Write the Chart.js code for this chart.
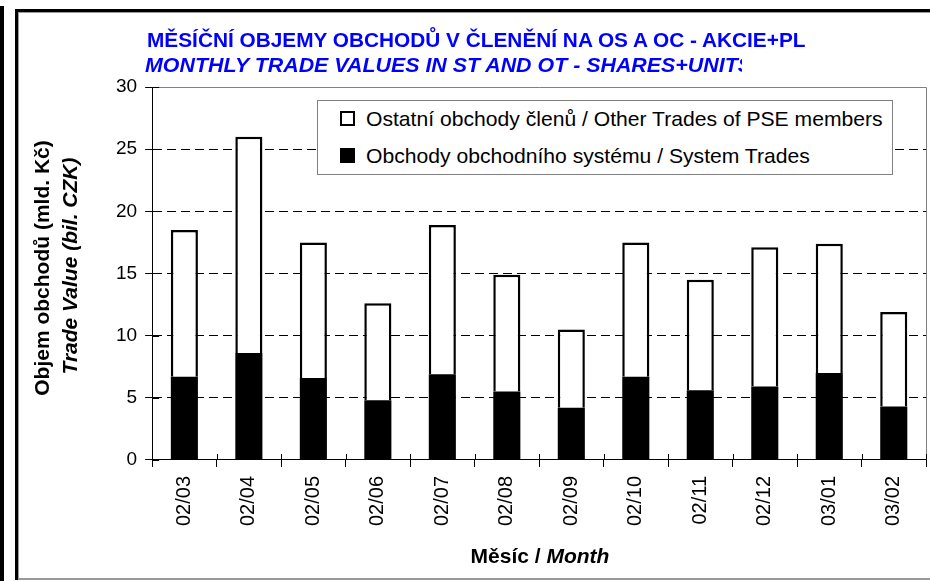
<!DOCTYPE html>
<html>
<head>
<meta charset="utf-8">
<script src="https://cdn.jsdelivr.net/npm/chart.js@4.4.1/dist/chart.umd.min.js"></script>
<style>
  html, body { margin: 0; padding: 0; background: #fff; }
  body { width: 930px; height: 581px; position: relative; overflow: hidden; font-family: "Liberation Sans", Arial, sans-serif; }
  #sideBar { position: absolute; left: 0; top: 6px; width: 4px; height: 575px; background: #000; }
  #frame { position: absolute; left: 15px; top: 9px; width: 925px; height: 571px; box-sizing: border-box; border-top: 3px solid #000; border-left: 3px solid #000; }
  #frame div { position: absolute; left: 0; top: 0; right: 0; bottom: 0; border-top: 1px solid #999; border-left: 1px solid #999; border-bottom: 2px solid #999; }
  #wrap { position: absolute; left: 0; top: 0; width: 930px; height: 581px; }
  .txt { position: absolute; white-space: nowrap; line-height: 21px; font-size: 21px; }
  .title { font-weight: bold; color: #0000ff; transform-origin: left center; }
  #title2clip { position: absolute; left: 145px; top: 50px; width: 597px; height: 30px; overflow: hidden; }
  #title2 { left: 0; top: 4px; font-style: italic; }
  .ytitle { font-weight: bold; color: #000; transform: translate(-50%, -50%) rotate(-90deg); }
  #xtitle { left: 540px; top: 545px; font-weight: bold; transform: translateX(-50%); }
  #legend { position: absolute; left: 317px; top: 100px; width: 576px; height: 75px; box-sizing: border-box; border: 1px solid #808080; background: #fff; }
  .mark { position: absolute; left: 22px; width: 15px; height: 15px; box-sizing: border-box; border: 2px solid #000; }
  .ltext { left: 48px; color: #000; transform-origin: left center; }
</style>
</head>
<body>
<div id="sideBar"></div>
<div id="frame"><div></div></div>
<div id="wrap"><canvas id="chart"></canvas></div>
<div class="txt title" id="title1" style="left:147px; top:29px;"></div>
<div id="title2clip"><div class="txt title" id="title2"></div></div>
<div class="txt ytitle" id="ytitle1" style="left:41px; top:268px;"></div>
<div class="txt ytitle" id="ytitle2" style="left:69px; top:266px; font-style:italic;"></div>
<div class="txt" id="xtitle"></div>
<div id="legend"></div>
<script>
const months = ["02/03", "02/04", "02/05", "02/06", "02/07", "02/08", "02/09", "02/10", "02/11", "02/12", "03/01", "03/02"];
const systemTrades = [6.7, 8.6, 6.6, 4.8, 6.9, 5.5, 4.2, 6.7, 5.6, 5.9, 7.0, 4.3];
const otherTrades = [11.8, 17.4, 10.9, 7.8, 12.0, 9.4, 6.3, 10.8, 8.9, 11.2, 10.4, 7.6];
const seriesNames = ["Obchody obchodního systému / System Trades", "Ostatní obchody členů / Other Trades of PSE members"];
const yMin = 0, yMax = 30, yStep = 5;

const titleLines = ["MĚSÍČNÍ OBJEMY OBCHODŮ V ČLENĚNÍ NA OS A OC - AKCIE+PL", "MONTHLY TRADE VALUES IN ST AND OT - SHARES+UNITS"];
const yTitleLines = ["Objem obchodů (mld. Kč)", "Trade Value (bil. CZK)"];

document.getElementById("title1").textContent = titleLines[0];
document.getElementById("title2").textContent = titleLines[1];
document.getElementById("ytitle1").textContent = yTitleLines[0];
document.getElementById("ytitle2").textContent = yTitleLines[1];
document.getElementById("xtitle").innerHTML = "Měsíc / <i>Month</i>";

// fit text lines to the widths in the picture
function fitWidth(el, w) {
  el.style.transform = "scaleX(" + (w / el.offsetWidth) + ")";
}
fitWidth(document.getElementById("title1"), 658);
fitWidth(document.getElementById("title2"), 607);

// legend, other trades first
const legend = document.getElementById("legend");
[[seriesNames[1], "#fff", 10, 7], [seriesNames[0], "#000", 47, 44]].forEach(function (it) {
  const m = document.createElement("div");
  m.className = "mark";
  m.style.background = it[1];
  m.style.top = it[2] + "px";
  legend.appendChild(m);
  const t = document.createElement("div");
  t.className = "txt ltext";
  t.style.top = it[3] + "px";
  t.textContent = it[0];
  legend.appendChild(t);
});
fitWidth(legend.children[1], 517);
fitWidth(legend.children[3], 517 * legend.children[3].offsetWidth / legend.children[1].offsetWidth);

// plot border and the inner halves of tick marks
const plotExtras = {
  id: "plotExtras",
  afterDatasetsDraw(chart) {
    const { ctx, chartArea: a, scales } = chart;
    ctx.save();
    ctx.lineWidth = 1;
    ctx.strokeStyle = "#808080";
    ctx.beginPath();
    ctx.moveTo(a.left, Math.round(a.top) + 0.5);
    ctx.lineTo(Math.round(a.right) + 0.5, Math.round(a.top) + 0.5);
    ctx.lineTo(Math.round(a.right) + 0.5, a.bottom);
    ctx.stroke();
    ctx.strokeStyle = "#000";
    ctx.beginPath();
    scales.y.ticks.forEach(function (t) {
      const py = Math.round(scales.y.getPixelForValue(t.value)) + 0.5;
      ctx.moveTo(a.left, py);
      ctx.lineTo(a.left + 7, py);
    });
    const step = (a.right - a.left) / months.length;
    for (let i = 0; i <= months.length; i++) {
      const px = Math.round(a.left + i * step) + 0.5;
      ctx.moveTo(px, a.bottom);
      ctx.lineTo(px, a.bottom - 6);
    }
    ctx.stroke();
    ctx.restore();
  }
};

Chart.defaults.font.family = '"Liberation Sans", Arial, sans-serif';
Chart.defaults.color = "#000";

new Chart(document.getElementById("chart"), {
  type: "bar",
  data: {
    labels: months,
    datasets: [
      {
        label: seriesNames[0],
        data: systemTrades,
        backgroundColor: "#000",
        borderColor: "#000",
        borderWidth: 0,
      },
      {
        label: seriesNames[1],
        data: otherTrades,
        backgroundColor: "#fff",
        borderColor: "#000",
        borderWidth: 2.5,
      },
    ],
  },
  options: {
    responsive: true,
    maintainAspectRatio: false,
    animation: false,
    barPercentage: 0.42,
    categoryPercentage: 1.0,
    layout: { padding: { left: 108, top: 87, right: 4, bottom: 46 } },
    plugins: {
      legend: { display: false },
      tooltip: { enabled: false },
    },
    scales: {
      x: {
        stacked: true,
        grid: { display: true, drawOnChartArea: false, offset: true, tickLength: 7, color: "#000", tickColor: "#000" },
        border: { display: true, color: "#000", width: 1 },
        ticks: { minRotation: 90, maxRotation: 90, padding: 9, font: { size: 20 } },
      },
      y: {
        stacked: true,
        min: yMin,
        max: yMax,
        ticks: { stepSize: yStep, padding: 8, font: { size: 19 } },
        grid: {
          tickLength: 7,
          tickColor: "#000",
          color: function (c) {
            return c.tick && (c.tick.value === yMin || c.tick.value === yMax) ? "rgba(0,0,0,0)" : "#000";
          },
        },
        border: { display: true, color: "#000", width: 1, dash: [9, 5] },
      },
    },
  },
  plugins: [plotExtras],
});
</script>
</body>
</html>
